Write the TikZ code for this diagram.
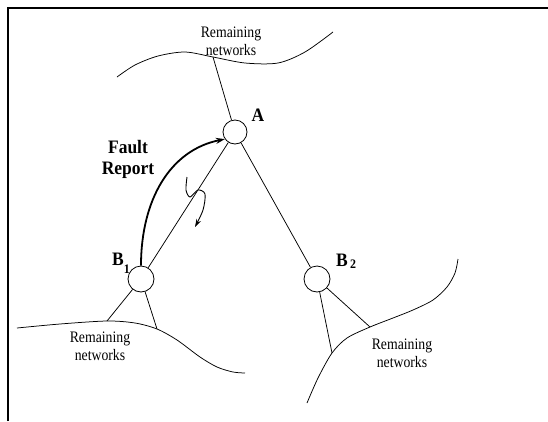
\documentclass[tikz,border=0pt]{standalone}
\usepackage{fontspec}
\setmainfont{Liberation Serif}
\newfontfamily\netfont[FakeStretch=0.86]{Liberation Serif}
\newfontfamily\labfont[FakeStretch=0.92]{Liberation Serif}
\usetikzlibrary{arrows.meta}
\tikzset{
  hub/.style={draw,circle,inner sep=0pt,line width=0.8pt},
  netlbl/.style={align=center,inner sep=0pt,font=\netfont\fontsize{16}{18}\selectfont},
  caplbl/.style={inner sep=0pt,font=\labfont\bfseries\fontsize{19}{21}\selectfont},
  link/.style={line width=0.75pt}
}
\begin{document}
\begin{tikzpicture}[x=1pt,y=-1pt]
  \useasboundingbox (0,0) rectangle (548,421);
  \draw[line width=2pt] (7.7,421) -- (7.7,8.3) -- (548,8.3);

  \node[hub,minimum size=24pt] (A) at (235,132) {};
  \node[hub,minimum size=26pt] (B1) at (141,279) {};
  \node[hub,minimum size=26pt] (B2) at (317,279) {};

  \node[caplbl] (labA) at (258,115) {A};
  \node[caplbl,anchor=base west] (labB1) at (112,265) {B\raisebox{-8pt}{\fontsize{13}{13}\selectfont 1}};
  \node[caplbl,anchor=base west] (labB2) at (336,266) {B\raisebox{-2pt}{\fontsize{13}{13}\selectfont\,2}};
  \node[caplbl,align=center] (fault) at (128,159) {Fault\\Report};

  \coordinate (tA) at (213,57);
  \coordinate (l1) at (107,321);
  \coordinate (l2) at (157,329);
  \coordinate (r1) at (332,353);
  \coordinate (r2) at (370,327);

  \draw[link] plot[smooth] coordinates {(117,77) (135,65) (158,56) (185,52) (tA) (245,63) (278,63) (305,52) (333,32)};
  \draw[link] plot[smooth] coordinates {(17,328) (60,324) (l1) (135,323) (l2) (177,340) (200,357) (217,367) (233,372) (245,373)};
  \draw[link] plot[smooth] coordinates {(307,403) (318,378) (r1) (347,338) (r2) (393,318) (413,310) (433,300) (447,287) (455,273) (458,259)};

  \node[netlbl] (netT) at (231,41) {Remaining\\networks};
  \node[netlbl] (netL) at (100,346.5) {Remaining\\networks};
  \node[netlbl] (netR) at (402,353.5) {Remaining\\networks};

  \draw[link] (A) -- (tA);
  \draw[link] (A) -- (B1);
  \draw[link] (A) -- (B2);
  \draw[link] (B1) -- (l1);
  \draw[link] (B1) -- (l2);
  \draw[link] (B2) -- (r1);
  \draw[link] (B2) -- (r2);

  \draw[line width=1.8pt,-{Stealth[length=9pt,width=6pt]}] (B1.north) .. controls (141,200) and (170,150) .. (A.215);
  \draw[line width=0.9pt,-{Stealth[length=8pt,width=5pt]}] plot[smooth] coordinates {(187,177) (186,190) (190,197) (198,190) (205,194) (203,210) (195,227)};
\end{tikzpicture}
\end{document}
